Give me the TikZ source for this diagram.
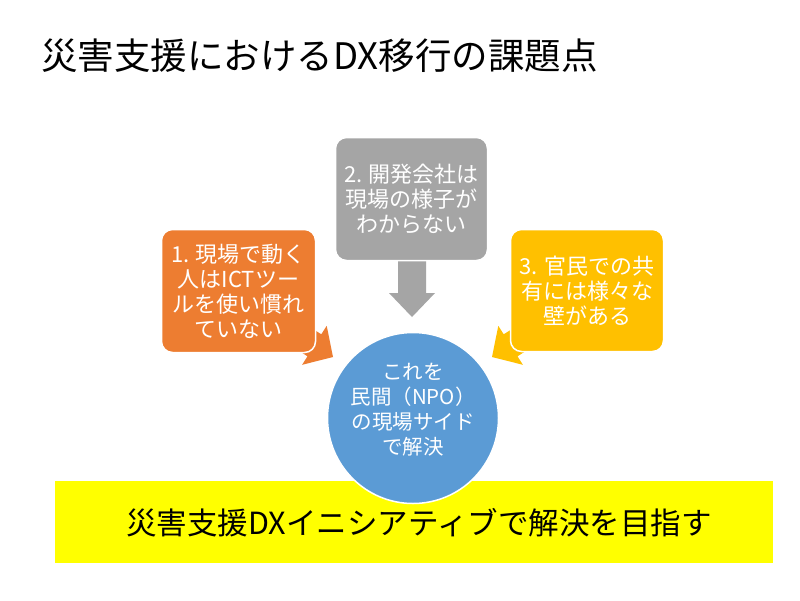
\documentclass[tikz,border=0pt]{standalone}
\usepackage{fontspec}
\setmainfont{Noto Sans CJK JP}
\definecolor{oorange}{RGB}{237,125,49}
\definecolor{ogray}{RGB}{165,165,165}
\definecolor{ogold}{RGB}{255,192,0}
\definecolor{oblue}{RGB}{91,155,213}
\definecolor{oyellow}{RGB}{255,255,0}
\tikzset{
  callbox/.style={rectangle, rounded corners=11pt, draw=white, line width=1.5pt,
    text=white, align=center, inner sep=0pt,
    font=\fontsize{22}{25}\selectfont},
}
\begin{document}
\begin{tikzpicture}[x=1pt,y=-1pt]
\useasboundingbox (0,0) rectangle (800,600);
\fill[white] (0,0) rectangle (800,600);

% title
\node[anchor=west, inner sep=0pt, font=\fontsize{36.5}{40}\selectfont] (title) at (41,56) {災害支援におけるDX移行の課題点};

% block arrows (drawn first, boxes cover their tails)
\fill[oorange] (273.7,334.9) -- (307.5,356.3) -- (302.1,364.8) -- (333,357)
  -- (326.7,325.8) -- (321.3,334.3) -- (287.5,312.9) -- cycle;
\fill[ogold] (551.3,334.9) -- (517.5,356.3) -- (522.9,364.8) -- (492,357)
  -- (498.3,325.8) -- (503.7,334.3) -- (537.5,312.9) -- cycle;
\fill[ogray] (398,250) -- (426,250) -- (426,293) -- (435,293) -- (412,317)
  -- (389,293) -- (398,293) -- cycle;

% boxes
\node[callbox, fill=oorange, minimum width=154pt, minimum height=123pt] (b1) at (238.5,291)
  {1. 現場で動く\\人はICTツー\\ルを使い慣れ\\ていない};
\node[callbox, fill=ogray, minimum width=152pt, minimum height=123pt] (b2) at (411.5,199)
  {2. 開発会社は\\現場の様子が\\わからない};
\node[callbox, fill=ogold, minimum width=153pt, minimum height=122pt] (b3) at (587,290.5)
  {3. 官民での共\\有には様々な\\壁がある};

% bottom banner
\node[rectangle, fill=oyellow, minimum width=718pt, minimum height=82pt, inner sep=0pt] (banner) at (414,522) {};

% circle
\node[circle, fill=oblue, draw=white, line width=1.5pt, minimum size=171pt, inner sep=0pt] (circ) at (413,418) {};
\node[text=white, align=center, inner sep=0pt, font=\fontsize{20.5}{25}\selectfont] (circtext) at (413,410)
  {これを\\民間（NPO）\\の現場サイド\\で解決};

% banner text
\node[inner sep=0pt, font=\fontsize{30.5}{36}\selectfont] (bannertext) at (419,523)
  {災害支援DXイニシアティブで解決を目指す};
\end{tikzpicture}
\end{document}
